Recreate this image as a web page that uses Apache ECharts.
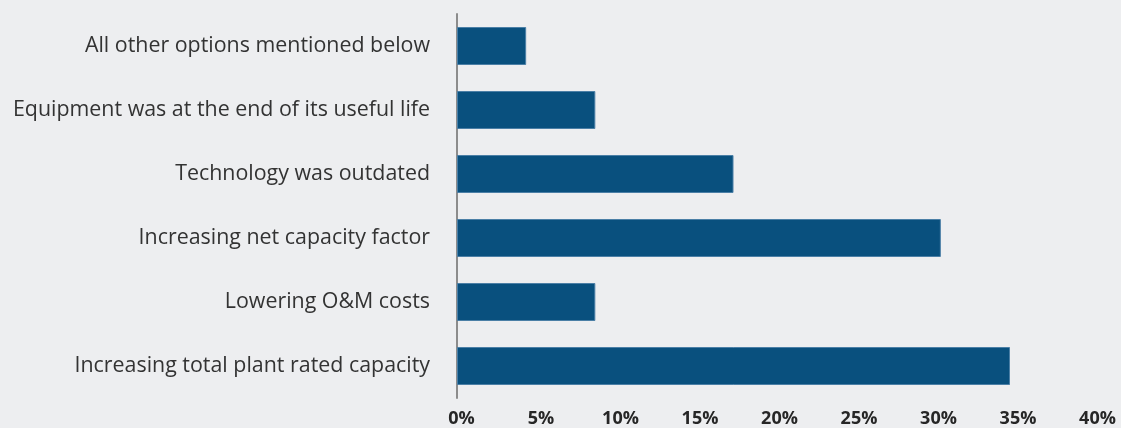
<!DOCTYPE html>
<html>
<head>
<meta charset="utf-8">
<style>
  html, body { margin: 0; padding: 0; background: #edeef0; }
  #chart { width: 1121px; height: 428px; }
</style>
<script src="https://cdn.jsdelivr.net/npm/echarts@6/dist/echarts.min.js"></script>
</head>
<body>
<div id="chart"></div>
<script>
// Reasons given for repowering, share of respondents (%), listed bottom to top
const categories = [
  'Increasing total plant rated capacity',
  'Lowering O&M costs',
  'Increasing net capacity factor',
  'Technology was outdated',
  'Equipment was at the end of its useful life',
  'All other options mentioned below'
];
const shares = [34.78, 8.70, 30.43, 17.39, 8.70, 4.35];
const axisMin = 0;
const axisMax = 40;
const axisStep = 5;

const chart = echarts.init(document.getElementById('chart'), null, { renderer: 'canvas' });
chart.setOption({
  backgroundColor: '#edeef0',
  animation: false,
  grid: { left: 457, right: 28, top: 14, bottom: 30, containLabel: false },
  xAxis: {
    type: 'value',
    min: axisMin,
    max: axisMax,
    interval: axisStep,
    axisLine: { show: false },
    axisTick: { show: false },
    splitLine: { show: false },
    axisLabel: {
      formatter: '{value}%',
      color: '#262626',
      fontFamily: 'Open Sans',
      fontWeight: 'bold',
      fontSize: 18,
      margin: 12,
      padding: [0, 0, 0, 9]
    }
  },
  yAxis: {
    type: 'category',
    data: categories,
    axisLine: { show: true, lineStyle: { color: '#8c8c8c', width: 2 } },
    axisTick: { show: false },
    axisLabel: {
      color: '#333333',
      fontFamily: 'Open Sans',
      fontSize: 21.4,
      margin: 27
    }
  },
  series: [{
    type: 'bar',
    data: shares,
    barWidth: 38,
    itemStyle: { color: '#09507e', borderColor: '#4b7fa6', borderWidth: 1 }
  }]
});
</script>
</body>
</html>
